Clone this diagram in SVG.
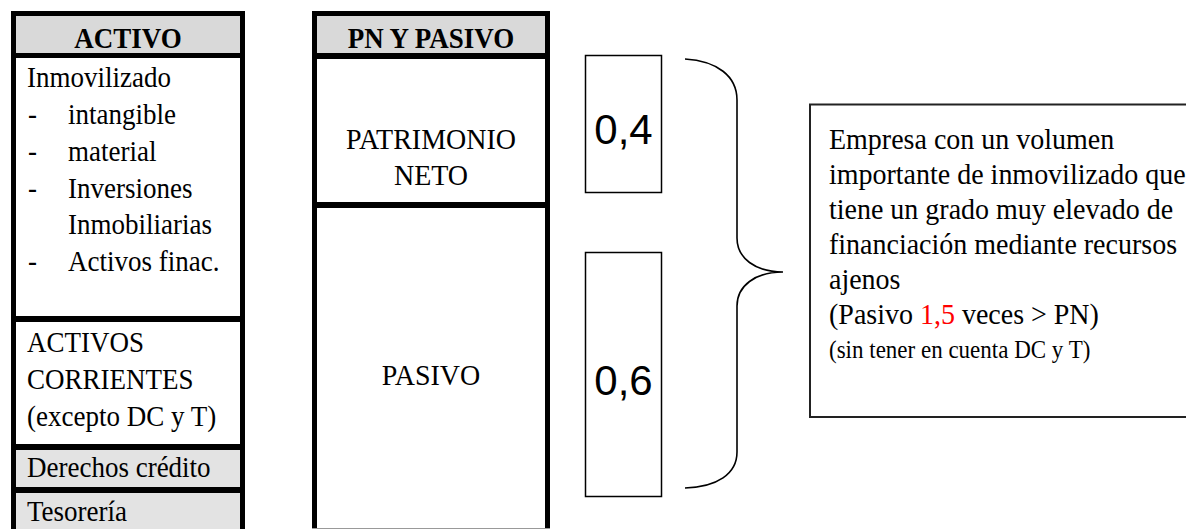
<svg xmlns="http://www.w3.org/2000/svg" width="1186" height="531" viewBox="0 0 1186 531">
<style>
.t{font-family:"Liberation Serif","Times New Roman",serif;font-size:27px;fill:#000}
.tb{font-family:"Liberation Serif","Times New Roman",serif;font-size:27px;font-weight:bold;fill:#000}
.r{font-family:"Liberation Serif","Times New Roman",serif;font-size:28px;fill:#000}
.rs{font-family:"Liberation Serif","Times New Roman",serif;font-size:23px;fill:#000}
.n{font-family:"Liberation Sans",Arial,sans-serif;font-size:42px;fill:#000}
.red{fill:#ff0000}
.hdr{fill:#d9d9d9}
.lt{fill:#e3e3e3}
.wh{fill:#ffffff}
.box{fill:#ffffff;stroke:#000;stroke-width:1.5}
</style>
<rect x="0" y="0" width="1186" height="531" fill="#ffffff"/>

<g id="activo">
  <rect x="11" y="11" width="234" height="518" fill="#000"/>
  <rect class="hdr" x="16" y="16" width="224" height="37"/>
  <rect class="wh" x="16" y="58" width="224" height="258"/>
  <rect class="wh" x="16" y="322" width="224" height="122"/>
  <rect class="lt" x="16" y="450" width="224" height="37"/>
  <rect class="lt" x="16" y="493" width="224" height="36"/>
  <text class="tb" text-anchor="middle" transform="translate(128,48) scale(1,1.12)">ACTIVO</text>
  <text class="t" transform="translate(27,87) scale(1,1.1)">Inmovilizado</text>
  <text class="t" transform="translate(28,124) scale(1,1.1)">-</text>
  <text class="t" transform="translate(68,124) scale(1,1.1)">intangible</text>
  <text class="t" transform="translate(28,161) scale(1,1.1)">-</text>
  <text class="t" transform="translate(68,161) scale(1,1.1)">material</text>
  <text class="t" transform="translate(28,197.5) scale(1,1.1)">-</text>
  <text class="t" transform="translate(68,197.5) scale(1,1.1)">Inversiones</text>
  <text class="t" transform="translate(68,234) scale(1,1.1)">Inmobiliarias</text>
  <text class="t" transform="translate(28,271) scale(1,1.1)">-</text>
  <text class="t" transform="translate(68,271) scale(1,1.1)">Activos finac.</text>
  <text class="t" transform="translate(27,352) scale(1,1.1)">ACTIVOS</text>
  <text class="t" transform="translate(27,389) scale(1,1.1)">CORRIENTES</text>
  <text class="t" transform="translate(27,426) scale(1,1.1)">(excepto DC y T)</text>
  <text class="t" transform="translate(27,477) scale(1,1.1)">Derechos crédito</text>
  <text class="t" transform="translate(27,521) scale(1,1.1)">Tesorería</text>
</g>

<g id="pn-pasivo">
  <rect x="312" y="11" width="238" height="518" fill="#000"/>
  <rect class="hdr" x="317" y="16" width="228" height="37"/>
  <rect class="wh" x="317" y="59" width="228" height="143"/>
  <rect class="wh" x="317" y="208" width="228" height="321"/>
  <line x1="312" y1="528.5" x2="550" y2="528.5" stroke="#999" stroke-width="1"/>
  <text class="tb" text-anchor="middle" transform="translate(431,48) scale(1,1.12)">PN Y PASIVO</text>
  <text class="r" text-anchor="middle" transform="translate(431,149) scale(1,1.07)">PATRIMONIO</text>
  <text class="r" text-anchor="middle" transform="translate(431,185) scale(1,1.07)">NETO</text>
  <text class="r" text-anchor="middle" transform="translate(431,385) scale(1,1.07)">PASIVO</text>
</g>

<g id="ratio-pn">
  <rect class="box" x="585.5" y="55.5" width="76" height="137"/>
  <text class="n" text-anchor="middle" x="623.5" y="144">0,4</text>
</g>
<g id="ratio-pasivo">
  <rect class="box" x="585.5" y="252.5" width="76" height="244"/>
  <text class="n" text-anchor="middle" x="623.5" y="395">0,6</text>
</g>

<g id="connectors">
  <path d="M685,59 C717,61 737,76 737,100 L737,238 C737,258 755,272 783,272 C755,272 737,286 737,306 L737,452 C737,474 717,487 685,488" fill="none" stroke="#000" stroke-width="1.6"/>
</g>

<g id="comentario">
  <rect x="810" y="104.5" width="400" height="312.5" fill="#ffffff" stroke="#222" stroke-width="2"/>
  <text class="r" transform="translate(829,149) scale(1,1.05)">Empresa con un volumen</text>
  <text class="r" transform="translate(829,184) scale(1,1.05)">importante de inmovilizado que</text>
  <text class="r" transform="translate(829,219) scale(1,1.05)">tiene un grado muy elevado de</text>
  <text class="r" transform="translate(829,254) scale(1,1.05)">financiación mediante recursos</text>
  <text class="r" transform="translate(829,289) scale(1,1.05)">ajenos</text>
  <text class="r" transform="translate(829,324) scale(1,1.05)">(Pasivo <tspan class="red">1,5</tspan> veces &gt; PN)</text>
  <text class="rs" transform="translate(829,358) scale(1,1.05)">(sin tener en cuenta DC y T)</text>
</g>
</svg>
